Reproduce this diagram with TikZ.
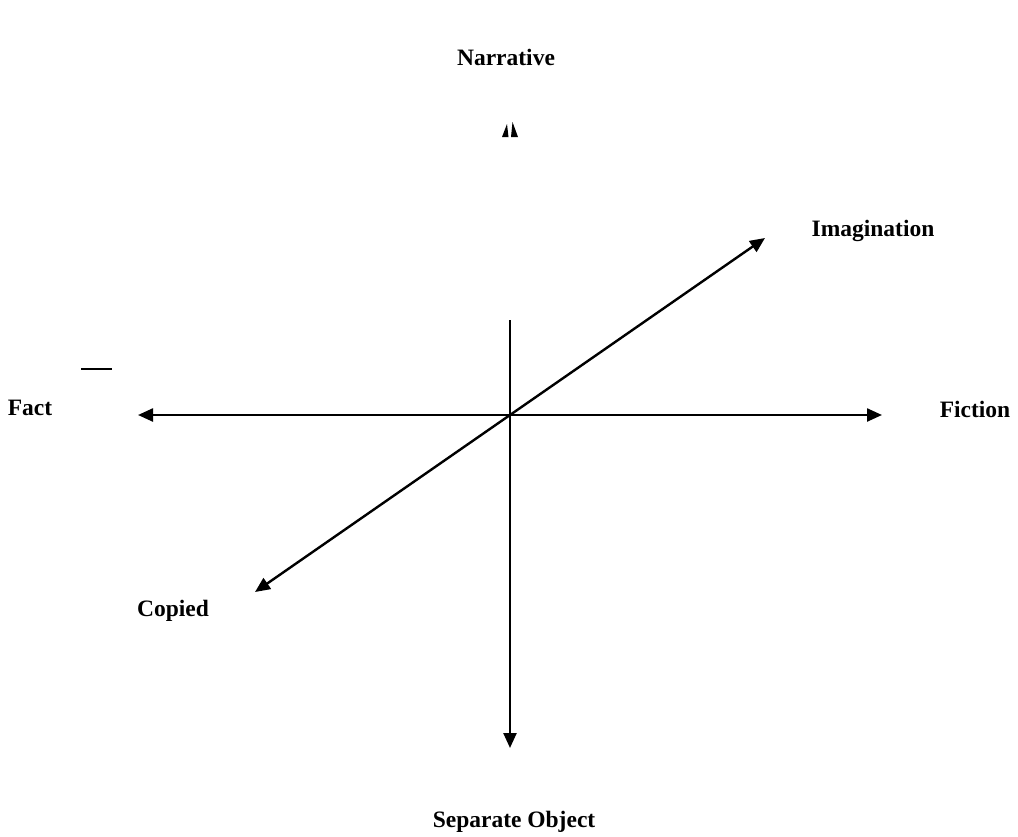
\documentclass[tikz,border=0pt]{standalone}
\usepackage{fontspec}
\setmainfont{Liberation Serif}
\usetikzlibrary{arrows.meta}
\begin{document}
\begin{tikzpicture}[x=1pt,y=-1pt,
  axis/.style={line width=2.4pt,black},
  tip/.style={-{Triangle[length=15pt,width=13pt]}},
  tips/.style={{Triangle[length=15pt,width=13pt]}-{Triangle[length=15pt,width=13pt]}},
  lbl/.style={font=\fontsize{23.5}{26}\selectfont\bfseries,anchor=base,inner sep=0pt}]
\useasboundingbox (0,0) rectangle (1018,836);
% labels
\node[lbl] (narr) at (506,65) {Narrative};
\node[lbl] (imag) at (873,236) {Imagination};
\node[lbl] (fact) at (30,415) {Fact};
\node[lbl] (fict) at (975,417) {Fiction};
\node[lbl] (copi) at (173,616) {Copied};
\node[lbl] (sepo) at (514,827) {Separate Object};
% axis end points
\coordinate (vtop) at (510,320);
\coordinate (vbot) at (510,748);
\coordinate (hl) at (138,415);
\coordinate (hr) at (882,415);
\coordinate (dl) at (255,592);
\coordinate (dr) at (765,238);
% axes
\draw[axis,tip] (vtop) -- (vbot);
\draw[axis,tips] (hl) -- (hr);
\draw[axis,tips] (dl) -- (dr);
% stray marks
\coordinate (dsa) at (81,369);
\coordinate (dsb) at (112,369);
\draw[line width=1.8pt] (dsa) -- (dsb);
\fill (502,137) -- (507,124) -- (508.5,137) -- cycle;
\fill (511,137) -- (512.5,122) -- (518,137) -- cycle;
\end{tikzpicture}
\end{document}
